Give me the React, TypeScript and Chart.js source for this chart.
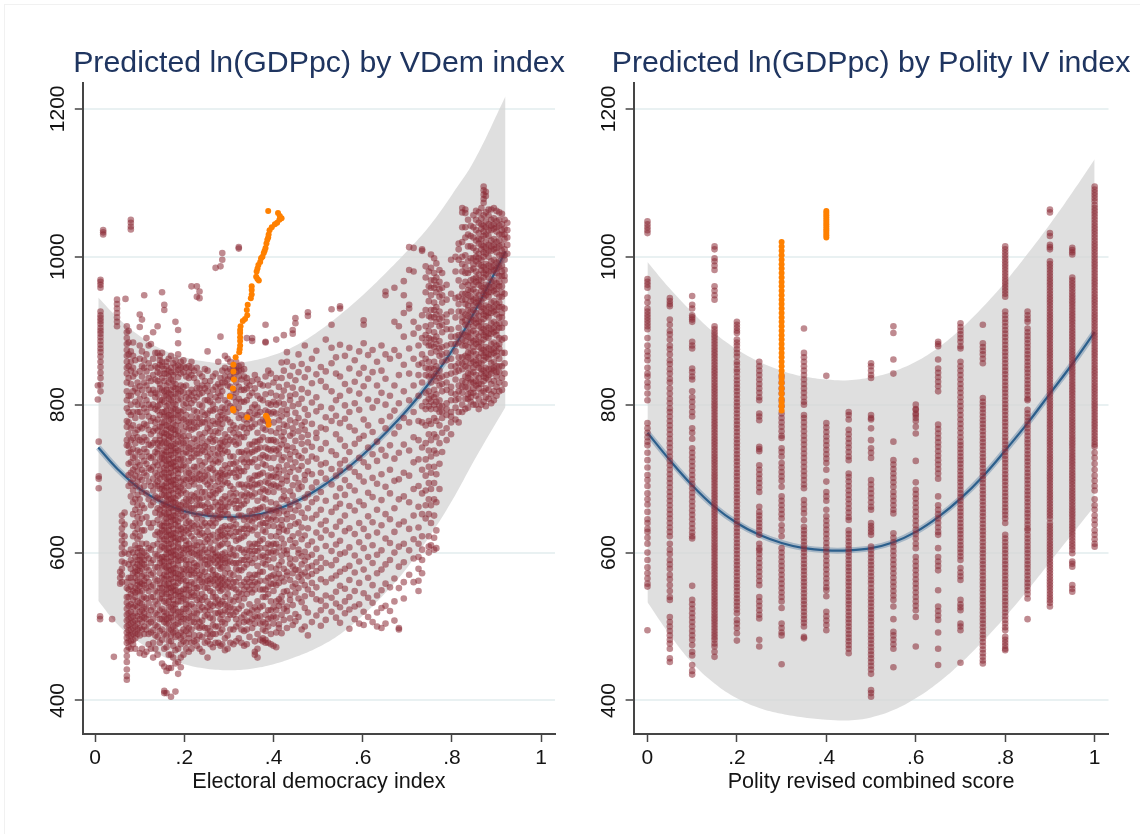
import React, { useEffect, useRef } from "react";
import { Chart, registerables } from "chart.js";

Chart.register(...registerables);

const xTickValues = [0, 0.2, 0.4, 0.6, 0.8, 1];
const xTickLabels = ["0", ".2", ".4", ".6", ".8", "1"];
const yTickValues = [400, 600, 800, 1000, 1200];

const leftTitle = "Predicted ln(GDPpc) by VDem index";
const rightTitle = "Predicted ln(GDPpc) by Polity IV index";
const leftXLabel = "Electoral democracy index";
const rightXLabel = "Polity revised combined score";

const leftFitX = [0.007, 0.05, 0.1, 0.15, 0.2, 0.25, 0.3, 0.35, 0.4, 0.45, 0.5, 0.55, 0.6, 0.65, 0.7, 0.75, 0.8, 0.85, 0.92];
const leftUpper = [945, 918, 893, 875, 864, 858, 856, 859, 867, 880, 899, 922, 948, 977, 1008, 1042, 1084, 1130, 1217];
const leftLower = [535, 503, 478, 460, 449, 443, 441, 443, 449, 459, 472, 490, 515, 545, 580, 622, 670, 725, 797];
const leftFit = [742, 713, 686, 668, 656, 650, 648, 650, 657, 669, 686, 707, 732, 761, 793, 830, 873, 925, 1007];

const rightFitX = [0, 0.05, 0.1, 0.15, 0.2, 0.25, 0.3, 0.35, 0.4, 0.45, 0.5, 0.55, 0.6, 0.65, 0.7, 0.75, 0.8, 0.85, 0.9, 0.95, 1];
const rightUpper = [993, 957, 925, 897, 875, 858, 846, 838, 834, 833, 837, 845, 858, 877, 902, 932, 966, 1004, 1044, 1087, 1132];
const rightLower = [533, 489, 451, 423, 403, 390, 382, 377, 374, 373, 377, 387, 403, 424, 450, 480, 513, 549, 587, 625, 663];
const rightFit = [762, 725, 691, 662, 640, 624, 613, 606, 603, 603, 606, 614, 628, 648, 673, 703, 738, 775, 815, 855, 898];

const leftOrange = [
  [0.388, 1062], [0.41, 1059], [0.414, 1055], [0.418, 1052], [0.413, 1050], [0.408, 1046], [0.403, 1044], [0.396, 1040], [0.391, 1036], [0.389, 1030],
  [0.388, 1026], [0.386, 1023], [0.384, 1018], [0.382, 1012], [0.38, 1008], [0.378, 1005], [0.375, 1000], [0.372, 998], [0.37, 993], [0.366, 989],
  [0.364, 984], [0.362, 980], [0.361, 973], [0.364, 970], [0.367, 968], [0.351, 960], [0.351, 955], [0.351, 949], [0.349, 944], [0.342, 935],
  [0.34, 928], [0.341, 921], [0.336, 916], [0.331, 913], [0.326, 906], [0.325, 901], [0.325, 897], [0.325, 891], [0.325, 886], [0.325, 880],
  [0.324, 875], [0.323, 871], [0.315, 864], [0.31, 854], [0.31, 845], [0.311, 834], [0.309, 822], [0.302, 811], [0.309, 794], [0.31, 792],
  [0.341, 783], [0.383, 785], [0.388, 779], [0.389, 773], [0.385, 783],
];

const rightOrange30 = [1020, 1014, 1008, 1002, 996, 990, 984, 978, 972, 966, 960, 954, 948, 942, 936, 930, 924, 918, 912, 906, 900, 894, 888, 882, 876, 870, 864, 858, 852, 846, 840, 835, 829, 822, 815, 808, 803, 798, 792];
const rightOrange40 = [1062, 1059, 1056, 1053, 1050, 1047, 1044, 1041, 1038, 1035, 1032, 1029, 1026];

const leftStrips: [number, number[]][] = [
  [0.006, [826, 807]], [0.008, [750, 703, 700, 687]], [0.011, [514, 510]],
  [0.012, [969, 966, 962, 958, 926, 921, 917, 913, 909, 904, 900, 896, 891, 886, 881, 876, 871, 865, 858, 851, 843, 836, 827, 818]],
  [0.018, [1036, 1033, 1030]], [0.038, [510]], [0.042, [459]],
  [0.049, [942, 936, 930, 924, 918, 912, 906]],
  [0.056, [574, 566, 558]], [0.06, [650, 642, 633, 625, 616, 607, 598, 588, 578, 570, 560]], [0.066, [654, 638, 622, 612, 600, 586]], [0.068, [943]],
  [0.071, [906, 898, 890, 882, 874, 866, 858, 850, 842, 830, 818, 806, 795, 778, 770, 752, 745, 560, 552, 540, 532, 524, 516, 508, 500, 492, 485, 478, 468, 460, 452, 442, 433, 428]],
  [0.075, [900, 884, 868, 852, 836, 812, 790, 776, 760, 744, 735, 720, 705, 690, 598, 584, 566, 550, 540, 528, 518, 510, 502, 495, 488, 480, 472]],
  [0.08, [1050, 1046, 1041, 1037, 872, 858, 846, 828, 812, 800, 786, 768, 752, 736, 722, 708, 694, 676, 604, 590, 578, 566, 554, 544, 530, 520, 512, 504, 496, 488, 480, 470]],
  [0.085, [884, 866, 850, 838, 818, 790, 772, 755, 740, 728, 712, 700, 684, 668, 652, 636, 622, 600, 586, 572, 560, 548, 536, 526, 514, 506, 498, 490, 482, 476]],
  [0.09, [860, 842, 822, 804, 782, 762, 748, 730, 716, 704, 690, 672, 658, 640, 626, 610, 594, 580, 574, 566, 552, 546, 540, 528, 518, 508, 500, 492, 484, 470]],
  [0.095, [830, 816, 800, 790, 766, 756, 738, 722, 710, 696, 678, 664, 648, 632, 618, 606, 600, 590, 584, 576, 570, 562, 556, 548, 534, 526, 514, 504, 496, 490]],
  [0.1, [922, 905, 880, 862, 845, 825, 808, 790, 770, 752, 736, 718, 702, 688, 672, 655, 640, 622, 606, 596, 590, 582, 575, 560, 554, 546, 532, 520, 510, 498, 488, 464]],
  [0.105, [915, 872, 852, 838, 820, 800, 784, 768, 750, 730, 712, 698, 682, 664, 646, 630, 612, 602, 594, 586, 578, 568, 558, 548, 538, 530, 522, 514, 506, 496, 470]],
  [0.11, [948, 860, 850, 830, 812, 795, 774, 756, 740, 724, 708, 690, 660, 630, 600, 590, 584, 570, 562, 556, 540, 526, 518, 512, 500, 490, 462]],
  [0.115, [890, 868, 845, 826, 806, 790, 772, 752, 736, 720, 704, 680, 648, 612, 596, 580, 566, 552, 538, 524, 510, 496, 466]],
  [0.12, [880, 856, 836, 820, 800, 784, 766, 746, 730, 714, 696, 672, 640, 606, 592, 576, 560, 548, 532, 516, 504, 490, 476]],
  [0.125, [882, 850, 832, 815, 796, 778, 760, 745, 728, 712, 690, 664, 634, 604, 586, 570, 554, 540, 522, 506, 492, 470]],
  [0.13, [898, 862, 840, 820, 800, 782, 764, 748, 730, 716, 700, 684, 668, 640, 610, 590, 572, 556, 540, 526, 510, 495, 478, 458]],
  [0.135, [870, 852, 834, 816, 810, 794, 776, 768, 752, 736, 722, 708, 692, 676, 654, 624, 598, 580, 564, 548, 534, 518, 502, 488, 470]],
  [0.14, [906, 870, 850, 844, 832, 814, 798, 792, 780, 765, 748, 740, 734, 718, 704, 696, 690, 674, 660, 644, 628, 612, 596, 580, 562, 546, 530, 516, 500, 486, 462]],
  [0.145, [866, 860, 854, 842, 828, 822, 806, 800, 786, 770, 758, 752, 744, 726, 712, 700, 686, 672, 658, 652, 638, 626, 618, 604, 592, 586, 572, 558, 552, 538, 522, 510, 494, 478]],
  [0.15, [952, 870, 858, 852, 836, 820, 806, 790, 776, 770, 762, 748, 734, 728, 720, 706, 692, 686, 678, 664, 650, 636, 630, 622, 608, 594, 588, 580, 566, 552, 544, 538, 524, 510, 496, 482, 450]],
  [0.155, [935, 928, 848, 842, 832, 818, 812, 804, 790, 784, 776, 762, 756, 750, 738, 732, 726, 714, 708, 702, 690, 684, 678, 666, 660, 654, 642, 636, 630, 618, 612, 606, 594, 588, 582, 570, 564, 558, 546, 534, 520, 514, 506, 490, 470, 446, 413, 410]],
  [0.16, [858, 852, 842, 826, 820, 812, 798, 792, 784, 772, 766, 760, 748, 742, 736, 724, 718, 712, 700, 694, 688, 676, 670, 664, 652, 646, 640, 628, 622, 616, 604, 598, 592, 580, 574, 568, 556, 550, 544, 532, 518, 510, 504, 488, 472, 440, 410]],
  [0.165, [862, 846, 838, 830, 816, 808, 800, 786, 778, 770, 758, 752, 744, 732, 726, 720, 708, 702, 696, 684, 678, 672, 660, 654, 648, 636, 630, 624, 612, 606, 600, 588, 582, 576, 564, 558, 552, 540, 534, 526, 512, 504, 496, 480, 462, 444]],
  [0.17, [866, 850, 844, 834, 820, 814, 806, 792, 786, 780, 768, 762, 756, 744, 738, 732, 720, 714, 708, 696, 690, 684, 672, 666, 660, 648, 642, 636, 624, 618, 612, 600, 594, 588, 576, 570, 564, 552, 546, 540, 526, 518, 512, 496, 488, 480, 462, 444, 405]],
  [0.175, [856, 840, 832, 824, 810, 802, 794, 782, 774, 766, 754, 746, 738, 728, 722, 716, 704, 698, 692, 680, 674, 668, 656, 650, 644, 632, 626, 620, 608, 602, 596, 584, 578, 572, 560, 554, 548, 536, 530, 522, 508, 500, 492, 474, 458]],
  [0.18, [912, 860, 852, 844, 828, 822, 814, 800, 794, 786, 772, 766, 760, 747, 741, 735, 723, 717, 711, 698, 692, 686, 673, 667, 661, 650, 644, 638, 626, 620, 615, 603, 597, 591, 579, 572, 566, 555, 549, 543, 530, 524, 516, 502, 494, 486, 468, 450, 412]],
  [0.186, [901, 883, 868, 853, 847, 837, 821, 815, 806, 792, 786, 778, 764, 758, 750, 738, 732, 726, 713, 707, 701, 689, 683, 677, 665, 659, 653, 642, 636, 630, 618, 612, 607, 595, 589, 583, 571, 565, 559, 547, 541, 534, 520, 512, 504, 488, 470, 452, 436]],
  [0.192, [858, 850, 842, 826, 818, 808, 790, 782, 772, 756, 748, 740, 726, 718, 712, 696, 688, 680, 664, 656, 646, 632, 625, 618, 604, 597, 590, 576, 569, 562, 548, 541, 534, 520, 513, 506, 492, 484, 476, 458, 445]],
  [0.198, [860, 852, 844, 824, 816, 800, 792, 780, 764, 757, 748, 734, 726, 718, 700, 692, 684, 668, 660, 650, 634, 627, 620, 606, 599, 592, 578, 571, 564, 550, 544, 538, 524, 517, 510, 496, 488, 480, 462]],
  [0.204, [850, 838, 826, 810, 802, 786, 778, 770, 752, 744, 736, 716, 708, 698, 680, 672, 664, 648, 640, 630, 616, 610, 604, 590, 584, 576, 562, 556, 550, 536, 530, 524, 510, 502, 494, 478, 470]],
  [0.21, [852, 844, 836, 816, 808, 796, 776, 768, 758, 742, 734, 724, 708, 700, 690, 672, 664, 656, 642, 634, 626, 612, 605, 598, 584, 577, 570, 556, 549, 542, 528, 520, 512, 498, 490, 484, 466]],
  [0.216, [960, 858, 850, 840, 820, 812, 802, 784, 776, 766, 748, 740, 728, 712, 704, 696, 678, 670, 660, 640, 632, 622, 606, 600, 590, 576, 570, 560, 546, 540, 530, 514, 506, 496, 478, 470]],
  [0.222, [846, 836, 816, 806, 792, 776, 768, 754, 738, 730, 716, 700, 692, 676, 660, 652, 636, 618, 610, 598, 586, 580, 572, 558, 552, 542, 526, 518, 506, 488, 480]],
  [0.228, [960, 946, 850, 830, 822, 810, 790, 782, 770, 752, 744, 734, 716, 708, 700, 680, 672, 664, 646, 638, 628, 610, 603, 596, 582, 575, 566, 552, 545, 536, 518, 510, 500, 482, 474]],
  [0.234, [953, 944, 842, 822, 814, 800, 782, 774, 760, 742, 734, 724, 706, 698, 688, 672, 664, 652, 632, 624, 614, 600, 593, 584, 570, 563, 554, 538, 530, 522, 506, 498, 488, 470]],
  [0.24, [838, 826, 816, 798, 790, 776, 756, 748, 738, 718, 710, 700, 682, 674, 664, 644, 636, 626, 608, 600, 592, 576, 568, 560, 544, 536, 526, 508, 500, 486, 466]],
  [0.246, [848, 832, 822, 806, 786, 776, 762, 744, 736, 722, 704, 696, 682, 662, 654, 640, 622, 614, 604, 590, 584, 574, 560, 552, 540, 522, 514, 498, 478]],
  [0.252, [872, 846, 826, 818, 806, 788, 780, 768, 750, 742, 730, 712, 704, 692, 674, 666, 656, 636, 628, 618, 600, 594, 584, 568, 562, 552, 534, 526, 516, 498, 490, 480, 458]],
  [0.258, [832, 812, 804, 792, 772, 764, 754, 734, 726, 714, 696, 688, 678, 660, 652, 640, 622, 614, 606, 592, 586, 578, 564, 558, 548, 530, 522, 512, 494, 486, 476]],
  [0.264, [838, 820, 800, 792, 778, 758, 750, 740, 720, 712, 700, 682, 674, 662, 644, 636, 624, 604, 598, 590, 576, 570, 562, 546, 540, 528, 510, 502, 490, 472]],
  [0.27, [985, 842, 824, 810, 794, 774, 764, 752, 732, 724, 708, 690, 680, 668, 650, 640, 616, 600, 594, 586, 570, 564, 556, 540, 532, 518, 500, 490, 478]],
  [0.276, [858, 828, 816, 806, 784, 776, 762, 742, 734, 722, 704, 696, 684, 664, 656, 646, 628, 620, 608, 596, 590, 582, 568, 560, 552, 536, 528, 518, 500, 478]],
  [0.281, [987, 892, 836, 824, 812, 790, 780, 768, 748, 740, 726, 708, 700, 686, 668, 658, 648, 630, 622, 610, 594, 586, 578, 564, 556, 548, 530, 520, 510, 492, 474]],
  [0.285, [1005, 996, 846, 830, 818, 796, 786, 774, 752, 744, 734, 712, 704, 692, 672, 662, 652, 634, 624, 612, 598, 590, 580, 566, 558, 550, 534, 516, 506, 496, 476]],
  [0.291, [866, 850, 838, 830, 806, 794, 782, 760, 750, 738, 718, 706, 696, 676, 664, 656, 636, 626, 618, 600, 592, 586, 572, 564, 556, 540, 530, 522, 504, 484, 468]],
  [0.297, [862, 845, 834, 826, 802, 790, 780, 756, 746, 736, 714, 704, 694, 672, 662, 652, 632, 622, 612, 594, 586, 578, 560, 552, 544, 528, 520, 510, 488, 470]],
  [0.303, [858, 848, 838, 824, 812, 798, 776, 766, 752, 730, 720, 708, 690, 680, 668, 646, 636, 626, 606, 598, 588, 572, 564, 554, 536, 526, 516, 496, 478]],
  [0.31, [850, 844, 836, 820, 810, 796, 772, 762, 750, 730, 720, 708, 686, 676, 666, 644, 634, 622, 604, 596, 586, 570, 560, 552, 534, 524, 516, 496, 476]],
  [0.316, [858, 850, 844, 830, 816, 804, 790, 768, 756, 746, 722, 712, 702, 680, 670, 660, 638, 628, 616, 596, 586, 578, 560, 550, 540, 520, 510, 500, 480]],
  [0.322, [1013, 1011, 852, 846, 838, 824, 808, 796, 782, 760, 748, 736, 714, 704, 692, 670, 660, 650, 628, 618, 606, 586, 576, 566, 546, 536, 524, 504, 484]],
  [0.328, [854, 846, 834, 820, 804, 786, 770, 756, 736, 726, 710, 692, 678, 664, 650, 632, 620, 604, 590, 576, 556, 544, 528, 512, 496, 478]],
  [0.334, [848, 838, 820, 804, 780, 768, 756, 734, 722, 710, 688, 676, 666, 644, 632, 622, 600, 590, 580, 560, 550, 538, 516, 506, 494, 474]],
  [0.34, [890, 836, 830, 822, 806, 786, 774, 762, 738, 726, 716, 692, 680, 670, 648, 636, 626, 604, 594, 584, 564, 554, 544, 520, 508, 496, 476]],
  [0.346, [826, 812, 790, 780, 768, 746, 734, 722, 700, 690, 678, 656, 644, 632, 612, 602, 590, 570, 560, 550, 530, 518, 506, 486]],
  [0.352, [890, 886, 832, 816, 796, 782, 770, 746, 736, 722, 698, 688, 676, 652, 642, 630, 608, 598, 586, 566, 556, 546, 522, 510, 498]],
  [0.358, [840, 822, 800, 788, 774, 750, 738, 726, 704, 692, 680, 658, 646, 634, 612, 602, 592, 570, 560, 550, 526, 514, 504, 480, 466, 462]],
  [0.364, [834, 812, 796, 786, 762, 750, 740, 716, 704, 692, 670, 658, 648, 624, 612, 602, 582, 570, 558, 534, 522, 512, 490, 470, 458]],
  [0.37, [828, 808, 790, 776, 752, 742, 728, 706, 694, 682, 660, 648, 638, 616, 606, 594, 574, 562, 550, 526, 514, 504, 482]],
  [0.376, [826, 806, 780, 768, 756, 732, 720, 708, 686, 674, 662, 640, 630, 618, 596, 586, 574, 550, 540, 528, 506, 496, 484, 480]],
  [0.382, [908, 885, 884, 838, 814, 792, 778, 766, 742, 730, 718, 696, 684, 672, 650, 640, 628, 606, 594, 584, 562, 550, 540, 516, 504, 494, 482, 478]],
  [0.388, [846, 826, 802, 790, 776, 752, 740, 728, 704, 694, 682, 658, 646, 636, 612, 600, 590, 566, 554, 544, 522, 510, 500, 478]],
  [0.394, [842, 816, 800, 788, 764, 752, 738, 714, 702, 690, 668, 656, 644, 622, 610, 600, 580, 568, 558, 534, 522, 512, 490, 476]],
  [0.4, [830, 804, 790, 776, 752, 740, 728, 704, 692, 682, 658, 648, 636, 612, 602, 592, 570, 558, 548, 526, 514, 504, 474]],
  [0.406, [888, 836, 812, 800, 788, 762, 750, 738, 712, 702, 690, 666, 656, 644, 622, 612, 600, 578, 566, 556, 534, 522, 512, 492, 472]],
  [0.412, [824, 803, 779, 768, 741, 733, 716, 707, 688, 661, 653, 634, 628, 607, 583, 571, 559, 537, 528, 503, 498]],
  [0.418, [857, 836, 811, 792, 784, 757, 746, 725, 699, 693, 672, 644, 637, 619, 596, 588, 566, 541, 533, 516, 491]],
  [0.423, [894, 846, 819, 801, 773, 763, 752, 729, 711, 684, 676, 656, 631, 612, 603, 578, 561, 547, 524, 509]],
  [0.43, [871, 858, 827, 793, 787, 771, 744, 739, 718, 703, 697, 671, 652, 645, 629, 603, 598, 574, 569, 548, 527, 521, 498]],
  [0.437, [839, 812, 806, 779, 758, 733, 726, 709, 683, 665, 659, 636, 617, 592, 585, 563, 543, 536, 511]],
  [0.443, [901, 896, 852, 823, 798, 768, 761, 742, 715, 691, 677, 648, 622, 608, 581, 572, 554, 529, 502]],
  [0.449, [917, 910, 833, 814, 789, 776, 751, 736, 722, 701, 669, 657, 639, 613, 591, 577, 558, 546, 517, 507]],
  [0.456, [868, 844, 801, 782, 764, 731, 712, 694, 686, 663, 641, 626, 604, 599, 576, 567, 552, 538, 513]],
  [0.463, [855, 821, 808, 772, 756, 747, 728, 717, 689, 654, 634, 618, 595, 584, 570, 562, 533, 496]],
  [0.47, [880, 837, 794, 777, 766, 738, 705, 698, 674, 647, 623, 601, 589, 573, 556, 541, 525, 500]],
  [0.477, [925, 920, 848, 816, 786, 759, 749, 723, 710, 679, 660, 633, 610, 594, 580, 568, 550, 519, 488]],
  [0.486, [862, 829, 803, 774, 743, 730, 706, 688, 668, 646, 615, 597, 582, 571, 559, 544, 506]],
  [0.496, [873, 841, 810, 791, 762, 755, 727, 695, 673, 651, 627, 605, 587, 575, 553, 537, 515]],
  [0.506, [851, 832, 797, 769, 740, 719, 708, 682, 658, 638, 620, 593, 579, 564, 535, 522, 501]],
  [0.517, [888, 845, 824, 783, 767, 748, 721, 700, 670, 643, 630, 609, 586, 560, 542, 528, 509]],
  [0.53, [929, 908, 877, 856, 818, 795, 778, 737, 713, 692, 655, 624, 602, 583, 565, 539, 520]],
  [0.54, [864, 842, 806, 785, 760, 732, 704, 676, 661, 635, 611, 590, 569, 547, 531, 512]],
  [0.549, [933, 930, 881, 838, 812, 775, 753, 720, 711, 687, 666, 642, 616, 598, 574, 555, 526, 505]],
  [0.56, [866, 828, 799, 781, 744, 725, 698, 678, 650, 629, 600, 578, 551, 534, 518]],
  [0.57, [877, 849, 819, 790, 770, 736, 715, 690, 663, 633, 607, 582, 563, 540, 523, 497]],
  [0.582, [860, 831, 802, 765, 747, 709, 684, 657, 625, 596, 573, 548, 527, 510]],
  [0.592, [872, 842, 815, 793, 754, 728, 703, 669, 640, 614, 588, 559, 530, 504]],
  [0.602, [914, 908, 883, 850, 825, 780, 758, 722, 696, 664, 632, 606, 577, 545, 520, 502]],
  [0.612, [867, 835, 807, 772, 742, 716, 681, 649, 622, 594, 566, 539, 513]],
  [0.622, [874, 844, 796, 763, 733, 701, 675, 641, 610, 586, 556, 532, 506]],
  [0.632, [858, 826, 805, 750, 724, 693, 658, 627, 597, 572, 542, 519, 500]],
  [0.642, [880, 846, 816, 778, 739, 706, 671, 637, 603, 577, 549, 525, 498]],
  [0.651, [953, 948, 868, 835, 800, 768, 731, 689, 652, 619, 584, 558, 528, 504]],
  [0.661, [862, 812, 784, 745, 712, 680, 645, 613, 590, 553, 521]],
  [0.671, [958, 912, 874, 826, 792, 761, 727, 697, 660, 628, 600, 565, 534, 508]],
  [0.681, [906, 866, 840, 802, 770, 735, 699, 672, 638, 608, 581, 552, 498, 496]],
  [0.692, [967, 948, 924, 892, 854, 818, 782, 746, 708, 676, 642, 612, 587, 560, 538]],
  [0.704, [1013, 982, 935, 930, 876, 842, 806, 776, 738, 704, 668, 632, 603, 570]],
  [0.714, [1012, 980, 912, 896, 862, 826, 790, 756, 722, 686, 650, 618, 592, 560]],
  [0.725, [904, 880, 854, 840, 812, 778, 752, 726, 690, 662, 634, 612, 594, 578, 562, 548]],
  [0.733, [1010, 1008, 921, 890, 868, 856, 830, 798, 776, 742, 712, 680, 652, 622, 604, 590, 572]],
  [0.741, [987, 972, 952, 928, 906, 894, 884, 862, 850, 840, 816, 804, 794, 772, 748, 726, 704, 684, 664, 646]],
  [0.748, [980, 960, 940, 920, 900, 890, 880, 858, 848, 838, 818, 808, 798, 778, 760, 738, 716, 694, 672, 652, 622, 608, 600]],
  [0.753, [1003, 985, 968, 958, 948, 928, 918, 908, 888, 880, 870, 850, 840, 830, 812, 804, 794, 774, 752, 730, 708, 686, 664, 640, 610]],
  [0.76, [998, 978, 968, 958, 938, 928, 918, 898, 888, 878, 858, 848, 838, 820, 810, 800, 782, 760, 738, 716, 694, 672, 650, 620, 604]],
  [0.765, [991, 972, 962, 952, 932, 922, 912, 892, 882, 872, 852, 842, 832, 814, 804, 794, 778, 756, 734, 706, 668, 630, 606]],
  [0.772, [982, 966, 956, 946, 926, 916, 906, 886, 876, 866, 846, 836, 826, 806, 798, 790, 772, 748, 720, 686]],
  [0.778, [978, 958, 948, 938, 918, 908, 898, 878, 868, 858, 838, 828, 818, 798, 790, 782, 762, 736]],
  [0.788, [962, 942, 922, 912, 902, 880, 870, 860, 840, 830, 820, 802, 794, 786, 768, 752]],
  [0.798, [996, 950, 926, 902, 892, 882, 862, 852, 842, 824, 816, 806, 790, 784, 776, 760]],
  [0.808, [1000, 980, 944, 918, 892, 882, 872, 852, 844, 834, 814, 806, 796, 780]],
  [0.815, [1018, 1010, 996, 968, 946, 936, 926, 904, 894, 884, 864, 856, 846, 826, 818, 808, 790, 776]],
  [0.823, [1066, 1060, 1040, 1020, 1000, 990, 980, 960, 950, 942, 926, 918, 912, 896, 888, 880, 864, 856, 848, 832, 824, 816, 800, 790]],
  [0.83, [1064, 1059, 1040, 1026, 1002, 986, 978, 966, 950, 942, 936, 922, 914, 908, 894, 886, 880, 866, 858, 852, 838, 830, 824, 808, 794]],
  [0.836, [1050, 1030, 1014, 994, 978, 962, 955, 948, 934, 928, 920, 906, 898, 892, 878, 870, 864, 850, 842, 836, 822, 814, 808, 796]],
  [0.842, [1042, 1028, 1014, 998, 982, 968, 954, 946, 940, 926, 918, 912, 898, 890, 884, 870, 862, 856, 842, 834, 830, 816, 810, 804]],
  [0.848, [1056, 1040, 1026, 1012, 998, 990, 984, 970, 962, 956, 942, 934, 928, 914, 906, 900, 886, 878, 872, 858, 850, 844, 830, 822, 816, 800]],
  [0.854, [1062, 1050, 1036, 1022, 1008, 1000, 994, 980, 972, 966, 952, 944, 938, 924, 916, 910, 896, 888, 882, 868, 860, 854, 840, 832, 826, 812, 800]],
  [0.86, [1060, 1046, 1032, 1024, 1018, 1004, 998, 990, 976, 968, 962, 948, 940, 934, 920, 912, 906, 892, 884, 878, 864, 856, 850, 836, 828, 822, 808, 794]],
  [0.866, [1066, 1052, 1044, 1038, 1024, 1016, 1010, 996, 988, 982, 968, 960, 954, 940, 932, 926, 912, 904, 898, 884, 876, 870, 856, 848, 842, 828, 816, 800]],
  [0.871, [1095, 1090, 1084, 1078, 1073, 1056, 1042, 1034, 1028, 1014, 1006, 1000, 986, 978, 972, 958, 950, 944, 930, 922, 916, 902, 894, 888, 874, 866, 860, 846, 838, 832, 818, 804]],
  [0.876, [1088, 1082, 1060, 1048, 1040, 1030, 1020, 1012, 1004, 990, 982, 976, 962, 954, 948, 934, 926, 920, 906, 898, 892, 878, 870, 864, 850, 842, 836, 822, 810, 798]],
  [0.882, [1064, 1056, 1044, 1036, 1028, 1016, 1008, 1000, 988, 980, 972, 960, 952, 946, 932, 924, 918, 904, 896, 890, 876, 868, 862, 848, 840, 834, 820, 808]],
  [0.888, [1064, 1050, 1042, 1036, 1022, 1014, 1008, 994, 986, 980, 966, 958, 952, 938, 930, 924, 910, 902, 896, 882, 874, 868, 856, 848, 842, 828, 814, 802]],
  [0.894, [1066, 1052, 1044, 1038, 1024, 1016, 1010, 996, 988, 982, 968, 960, 954, 940, 932, 926, 912, 904, 898, 884, 876, 870, 858, 850, 846, 832, 818, 806]],
  [0.9, [1062, 1048, 1040, 1034, 1020, 1012, 1006, 992, 984, 978, 964, 956, 950, 936, 928, 922, 908, 900, 894, 880, 872, 866, 852, 844, 838, 824, 812]],
  [0.906, [1060, 1050, 1042, 1030, 1022, 1014, 1002, 994, 986, 974, 966, 960, 946, 938, 932, 918, 910, 904, 890, 882, 876, 862, 852, 844, 830, 818]],
  [0.912, [1058, 1044, 1036, 1030, 1016, 1008, 1002, 988, 980, 974, 960, 952, 946, 932, 924, 918, 904, 888, 870, 852, 836, 820]],
  [0.918, [1050, 1038, 1030, 1024, 1010, 1002, 996, 982, 974, 968, 950, 930, 910, 890, 870, 856, 842, 828]],
  [0.924, [1046, 1036, 1026, 1016, 1004]],
];

const rightStrips: [number, number[]][] = [
  [0, [1048, 1044, 1040, 1036, 1032, 970, 966, 962, 958, 945, 938, 930, 926, 922, 918, 914, 910, 906, 902, 890, 880, 872, 866, 860, 850, 842, 838, 830, 824, 815, 806, 775, 768, 762, 756, 750, 745, 735, 725, 715, 705, 698, 690, 680, 672, 665, 655, 645, 640, 632, 628, 620, 612, 600, 590, 580, 572, 565, 558, 554, 495]],
  [0.05, [944, 940, 936, 933, 915, 908, 900, 895, 888, 880, 875, 868, 860, 855, 848, 842, 835, 830, 822, 815, 808, 802, 795, 790, 784, 778, 772, 766, 760, 754, 748, 742, 736, 730, 724, 718, 712, 706, 700, 694, 688, 682, 676, 670, 664, 658, 652, 646, 640, 634, 628, 622, 612, 604, 598, 590, 584, 578, 570, 564, 556, 548, 540, 536, 513, 506, 500, 494, 488, 482, 477, 470, 457, 452]],
  [0.1, [947, 935, 930, 921, 918, 915, 912, 885, 880, 876, 849, 844, 838, 834, 818, 810, 804, 797, 790, 784, 768, 762, 754, 741, 735, 729, 723, 717, 711, 705, 699, 693, 687, 681, 675, 669, 663, 657, 651, 645, 639, 633, 627, 622, 619, 555, 536, 530, 524, 518, 512, 506, 500, 494, 488, 482, 475, 466, 461, 448, 440, 435]],
  [0.15, [1014, 1010, 998, 994, 988, 982, 960, 954, 948, 942, 906, 902, 898, 894, 890, 886, 882, 878, 874, 870, 866, 862, 858, 854, 850, 846, 842, 838, 834, 830, 826, 822, 818, 814, 810, 806, 802, 798, 794, 790, 786, 782, 778, 774, 770, 766, 762, 758, 754, 750, 746, 742, 738, 734, 730, 726, 722, 718, 714, 710, 706, 702, 698, 694, 690, 686, 682, 678, 674, 670, 666, 662, 658, 654, 650, 646, 642, 638, 634, 630, 626, 622, 618, 614, 610, 606, 602, 598, 594, 590, 586, 582, 578, 574, 570, 566, 562, 558, 554, 550, 546, 542, 538, 534, 530, 526, 522, 518, 514, 510, 506, 502, 498, 494, 490, 486, 482, 477, 473, 466, 459]],
  [0.2, [912, 908, 904, 900, 897, 888, 884, 880, 875, 870, 865, 858, 854, 848, 844, 838, 833, 828, 823, 818, 813, 808, 803, 798, 793, 788, 783, 778, 773, 768, 763, 758, 753, 748, 743, 738, 733, 728, 723, 718, 713, 708, 703, 698, 693, 688, 683, 678, 673, 668, 663, 658, 653, 648, 643, 638, 633, 628, 623, 618, 613, 608, 603, 598, 593, 588, 583, 578, 573, 568, 563, 558, 553, 548, 543, 538, 533, 528, 523, 518, 509, 504, 498, 491, 481]],
  [0.25, [858, 852, 846, 840, 834, 828, 822, 816, 810, 806, 788, 784, 779, 743, 740, 737, 718, 712, 706, 700, 694, 688, 682, 662, 655, 650, 645, 640, 635, 630, 624, 612, 606, 603, 598, 592, 586, 580, 574, 568, 562, 556, 540, 534, 528, 522, 516, 511, 482, 473]],
  [0.3, [838, 830, 822, 815, 806, 798, 788, 782, 776, 770, 764, 758, 755, 741, 736, 730, 721, 715, 709, 703, 697, 689, 676, 670, 664, 658, 652, 646, 637, 630, 622, 606, 600, 594, 588, 582, 576, 570, 564, 558, 552, 546, 540, 534, 525, 504, 498, 492, 488, 449]],
  [0.35, [903, 870, 864, 858, 852, 846, 840, 834, 828, 822, 816, 810, 804, 800, 786, 782, 776, 770, 764, 758, 752, 746, 740, 734, 728, 722, 716, 710, 704, 698, 692, 687, 671, 665, 659, 653, 644, 635, 630, 625, 620, 615, 610, 605, 600, 595, 590, 585, 580, 575, 570, 565, 560, 555, 550, 545, 540, 535, 530, 525, 520, 515, 510, 505, 500, 486, 484]],
  [0.4, [839, 775, 769, 763, 757, 751, 745, 739, 733, 727, 721, 712, 696, 682, 676, 670, 658, 649, 643, 637, 631, 625, 619, 613, 607, 601, 595, 589, 583, 577, 571, 565, 559, 553, 549, 541, 520, 514, 508, 502, 495]],
  [0.45, [790, 786, 780, 766, 760, 754, 748, 742, 736, 730, 725, 707, 702, 696, 690, 684, 678, 672, 666, 660, 654, 648, 644, 630, 625, 620, 615, 610, 605, 600, 595, 590, 585, 580, 575, 570, 565, 560, 555, 550, 545, 540, 535, 530, 525, 520, 515, 510, 505, 500, 495, 490, 485, 480, 475, 470, 464]],
  [0.5, [856, 852, 846, 840, 836, 786, 782, 780, 768, 752, 741, 735, 728, 698, 692, 686, 680, 674, 668, 662, 658, 640, 636, 632, 628, 624, 608, 603, 598, 593, 588, 583, 578, 573, 568, 563, 558, 552, 547, 542, 537, 532, 527, 522, 517, 512, 507, 502, 497, 492, 487, 482, 477, 472, 467, 462, 457, 452, 447, 442, 436, 414, 410, 405]],
  [0.55, [906, 897, 861, 842, 750, 725, 719, 713, 707, 701, 695, 689, 682, 676, 670, 664, 658, 653, 626, 620, 614, 608, 602, 596, 590, 584, 578, 572, 566, 560, 554, 548, 542, 536, 527, 510, 493, 488, 482, 476, 470, 445]],
  [0.6, [800, 794, 788, 782, 793, 786, 778, 770, 761, 724, 695, 685, 679, 673, 667, 661, 655, 649, 643, 637, 631, 625, 619, 612, 606, 594, 588, 582, 576, 570, 564, 558, 552, 546, 540, 534, 528, 522, 513, 473]],
  [0.65, [885, 882, 879, 861, 849, 843, 837, 831, 825, 818, 773, 767, 761, 755, 749, 743, 737, 731, 725, 719, 713, 707, 700, 676, 664, 658, 652, 646, 640, 634, 628, 624, 606, 594, 588, 582, 576, 549, 527, 521, 515, 509, 492, 470, 448]],
  [0.7, [910, 905, 900, 895, 890, 885, 879, 876, 858, 852, 846, 840, 834, 828, 822, 816, 810, 804, 798, 792, 786, 780, 774, 768, 762, 756, 750, 745, 740, 735, 730, 725, 720, 715, 710, 705, 700, 695, 690, 685, 680, 675, 670, 665, 660, 655, 650, 645, 640, 635, 630, 625, 620, 615, 610, 605, 600, 595, 590, 579, 573, 568, 563, 536, 530, 526, 522, 504, 500, 495, 451]],
  [0.75, [908, 883, 878, 873, 868, 862, 856, 809, 804, 799, 794, 789, 784, 779, 774, 769, 764, 759, 754, 749, 744, 739, 734, 729, 724, 719, 714, 709, 704, 699, 694, 689, 684, 679, 674, 669, 664, 659, 654, 649, 644, 639, 634, 629, 624, 619, 614, 609, 604, 599, 594, 589, 584, 579, 574, 569, 564, 559, 554, 549, 544, 539, 534, 529, 524, 519, 514, 509, 504, 499, 494, 489, 484, 479, 474, 469, 464, 459, 454, 450]],
  [0.8, [1014, 1010, 1006, 1002, 998, 994, 990, 986, 982, 978, 974, 970, 966, 962, 958, 954, 950, 946, 926, 921, 916, 911, 906, 901, 896, 891, 886, 881, 876, 871, 866, 861, 856, 851, 846, 841, 836, 831, 826, 821, 816, 811, 806, 801, 796, 791, 786, 781, 776, 771, 766, 761, 756, 751, 746, 741, 736, 731, 726, 721, 716, 711, 706, 701, 696, 691, 686, 681, 676, 671, 666, 661, 656, 651, 646, 640, 624, 619, 614, 609, 604, 599, 594, 589, 584, 579, 574, 569, 564, 559, 554, 549, 544, 539, 534, 529, 524, 519, 514, 509, 504, 499, 495, 486, 482, 478, 474, 470, 468]],
  [0.85, [926, 921, 916, 912, 903, 898, 893, 888, 883, 878, 873, 868, 863, 858, 853, 848, 843, 838, 833, 828, 823, 818, 813, 808, 806, 793, 788, 783, 778, 773, 768, 763, 758, 753, 748, 743, 738, 733, 728, 723, 718, 713, 708, 703, 698, 693, 688, 683, 678, 673, 668, 663, 658, 653, 648, 643, 638, 633, 630, 624, 619, 614, 609, 604, 599, 594, 589, 584, 579, 574, 569, 564, 559, 554, 549, 544, 538, 510]],
  [0.9, [1064, 1060, 1032, 1028, 1016, 1013, 1010, 994, 990, 986, 982, 978, 974, 970, 966, 962, 958, 954, 950, 946, 942, 938, 934, 930, 926, 922, 918, 914, 910, 906, 902, 898, 894, 890, 886, 882, 878, 874, 870, 866, 862, 858, 854, 850, 846, 842, 838, 834, 830, 826, 822, 818, 814, 810, 806, 802, 798, 794, 790, 786, 782, 778, 774, 770, 766, 762, 758, 754, 750, 746, 742, 738, 734, 730, 726, 722, 718, 714, 710, 706, 702, 698, 694, 690, 686, 682, 678, 674, 670, 666, 662, 658, 654, 650, 646, 640, 636, 632, 628, 624, 620, 616, 612, 608, 604, 600, 596, 592, 588, 584, 580, 576, 572, 568, 564, 560, 556, 552, 548, 544, 540, 536, 532, 527]],
  [0.95, [1012, 1009, 1006, 1003, 972, 968, 964, 960, 956, 952, 948, 944, 940, 936, 932, 928, 924, 920, 916, 912, 908, 904, 900, 896, 892, 888, 884, 880, 876, 872, 868, 864, 860, 856, 852, 848, 844, 840, 836, 832, 828, 824, 820, 816, 812, 808, 804, 800, 796, 792, 788, 784, 780, 776, 772, 768, 764, 760, 756, 752, 748, 744, 740, 736, 732, 728, 724, 720, 716, 712, 708, 704, 700, 696, 692, 688, 684, 680, 676, 672, 668, 664, 660, 656, 652, 648, 644, 640, 636, 632, 628, 624, 620, 616, 612, 608, 604, 599, 588, 585, 581, 556, 551, 547]],
  [1, [1095, 1091, 1087, 1083, 1079, 1075, 1070, 1066, 1062, 1058, 1054, 1050, 1046, 1042, 1038, 1034, 1030, 1026, 1022, 1018, 1014, 1010, 1006, 1002, 998, 994, 990, 986, 982, 978, 974, 970, 966, 962, 958, 954, 950, 946, 942, 938, 934, 930, 926, 922, 918, 914, 910, 906, 902, 898, 894, 890, 886, 882, 878, 874, 870, 866, 862, 858, 854, 850, 846, 842, 838, 834, 830, 826, 822, 818, 814, 810, 806, 802, 798, 794, 790, 786, 782, 778, 774, 770, 766, 762, 758, 754, 750, 746, 743, 735, 728, 720, 712, 704, 697, 690, 684, 672, 664, 658, 650, 644, 638, 630, 624, 618, 612, 608]],
];

const stripsToPoints = (strips: [number, number[]][]) =>
  strips.flatMap(([x, ys]) => ys.map((y) => ({ x, y })));
const zip = (xs: number[], ys: number[]) => xs.map((x, i) => ({ x, y: ys[i] }));

const AXIS = "#454545";
const GRID = "#e9f1f2";
const TEXT = "#141414";
const FONT = "'Liberation Sans', Arial, sans-serif";

function makeChart(
  canvas: HTMLCanvasElement,
  o: { title: string; xLabel: string; fitX: number[]; upper: number[]; lower: number[]; fit: number[]; points: { x: number; y: number }[]; orange: { x: number; y: number }[]; xMin: number; xMax: number; yAxisW: number; padRight: number }
) {
  return new Chart(canvas, {
    type: "scatter",
    data: {
      datasets: [
        { label: "upper", data: zip(o.fitX, o.upper), showLine: true, tension: 0.4, pointRadius: 0, borderWidth: 0, borderColor: "transparent", fill: "+1", backgroundColor: "rgba(214,214,214,0.78)", order: 6 },
        { label: "lower", data: zip(o.fitX, o.lower), showLine: true, tension: 0.4, pointRadius: 0, borderWidth: 0, borderColor: "transparent", fill: false, order: 5 },
        { label: "ci", data: zip(o.fitX, o.fit), showLine: true, tension: 0.4, pointRadius: 0, borderWidth: 6, borderColor: "rgba(60,105,150,0.35)", fill: false, order: 4 },
        { label: "fit", data: zip(o.fitX, o.fit), showLine: true, tension: 0.4, pointRadius: 0, borderWidth: 2.2, borderColor: "#2c5f8c", fill: false, order: 3 },
        { label: "obs", data: o.points, pointRadius: 3.3, pointBorderWidth: 0, pointBackgroundColor: "rgba(139,42,53,0.55)", order: 2 },
        { label: "highlight", data: o.orange, pointRadius: 3, pointBorderWidth: 0, pointBackgroundColor: "rgb(255,128,0)", order: 1 },
      ],
    } as any,
    options: {
      responsive: false,
      animation: false,
      layout: { padding: 0 },
      plugins: {
        legend: { display: false },
        tooltip: { enabled: false },
        title: {
          display: true,
          text: o.title,
          color: "#1f3560",
          font: { family: FONT, size: 30.3, weight: "normal", lineHeight: 1.2 },
          padding: { top: 45, bottom: 1.6 },
        },
      },
      scales: {
        x: {
          type: "linear",
          min: o.xMin,
          max: o.xMax,
          afterBuildTicks: (a: any) => { a.ticks = xTickValues.map((value) => ({ value })); },
          afterFit: (a: any) => { a.height = 100; },
          grid: { drawOnChartArea: false, tickLength: 8, tickColor: AXIS, tickWidth: 1.5 },
          border: { color: AXIS, width: 2 },
          ticks: { color: TEXT, font: { family: FONT, size: 21 }, padding: 4, maxRotation: 0, minRotation: 0, callback: (v: any) => xTickLabels[xTickValues.indexOf(v)] ?? "" },
          title: { display: true, text: o.xLabel, color: TEXT, font: { family: FONT, size: 21.6, lineHeight: 1.2 }, padding: { top: 0, bottom: 39 } },
        },
        y: {
          type: "linear",
          min: 354.7,
          max: 1235,
          afterBuildTicks: (a: any) => { a.ticks = yTickValues.map((value) => ({ value })); },
          afterFit: (a: any) => { a.width = o.yAxisW; },
          grid: { color: GRID, lineWidth: 2, tickLength: 8, tickColor: AXIS, tickWidth: 1.5 },
          border: { color: AXIS, width: 2 },
          ticks: { color: TEXT, font: { family: FONT, size: 21 }, padding: -6.5, minRotation: 90, maxRotation: 90, crossAlign: "center", callback: (v: any) => String(v) },
        },
        titleSpacer: {
          type: "linear",
          position: "right",
          display: true,
          afterFit: (a: any) => { a.width = o.padRight; },
          grid: { display: false, drawTicks: false },
          border: { display: false },
          ticks: { display: false },
        },
      },
    } as any,
  });
}

export default function App() {
  const leftRef = useRef<HTMLCanvasElement>(null);
  const rightRef = useRef<HTMLCanvasElement>(null);

  useEffect(() => {
    const left = makeChart(leftRef.current!, {
      title: leftTitle, xLabel: leftXLabel, fitX: leftFitX, upper: leftUpper, lower: leftLower, fit: leftFit,
      points: stripsToPoints(leftStrips), orange: leftOrange.map(([x, y]) => ({ x, y })),
      xMin: -0.0277, xMax: 1.031, yAxisW: 82.8, padRight: 83,
    });
    const right = makeChart(rightRef.current!, {
      title: rightTitle, xLabel: rightXLabel, fitX: rightFitX, upper: rightUpper, lower: rightLower, fit: rightFit,
      points: stripsToPoints(rightStrips),
      orange: [...rightOrange30.map((y) => ({ x: 0.3, y })), ...rightOrange40.map((y) => ({ x: 0.4, y }))],
      xMin: -0.031, xMax: 1.031, yAxisW: 53.6, padRight: 53.5,
    });
    return () => { left.destroy(); right.destroy(); };
  }, []);

  return (
    <div style={{ position: "fixed", left: 0, top: 0, width: 1140, height: 834, overflow: "hidden", background: "#fff" }}>
      <div style={{ position: "absolute", left: 4, top: 4, right: 0, bottom: 0, borderTop: "1px solid #f1f1f1", borderLeft: "1px solid #f1f1f1" }} />
      <canvas ref={leftRef} width={638} height={834} style={{ position: "absolute", left: 0, top: 0, filter: "blur(0.5px)" }} />
      <canvas ref={rightRef} width={582} height={834} style={{ position: "absolute", left: 580, top: 0, filter: "blur(0.5px)" }} />
    </div>
  );
}
